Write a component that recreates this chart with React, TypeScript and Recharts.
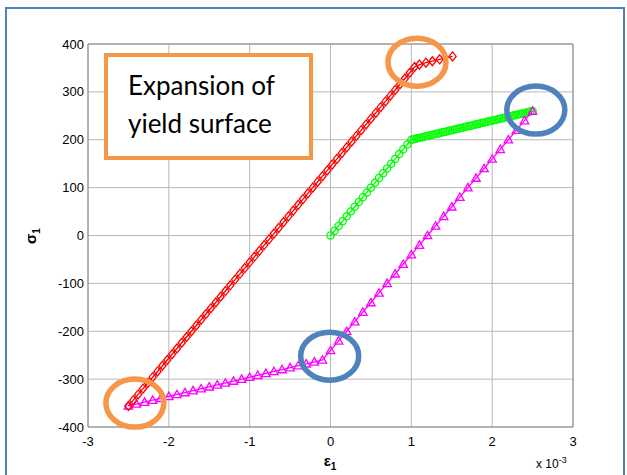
import React from "react";
import {
  ScatterChart,
  Scatter,
  XAxis,
  YAxis,
  CartesianGrid,
  ReferenceArea,
  ReferenceDot,
} from "recharts";

// strain (x 10^-3), stress
const initialLoading: [number, number][] = [
  [0, 0], [0.05, 10], [0.1, 20], [0.15, 30], [0.2, 40], [0.25, 50], [0.3, 60],
  [0.35, 70], [0.4, 80], [0.45, 90], [0.5, 100], [0.55, 110], [0.6, 120],
  [0.65, 130], [0.7, 140], [0.75, 150], [0.8, 160], [0.85, 170], [0.9, 180],
  [0.95, 190], [1.0, 200],
  [1.03, 201.2], [1.06, 202.4], [1.09, 203.6], [1.12, 204.8], [1.15, 206.0],
  [1.18, 207.2], [1.21, 208.4], [1.24, 209.6], [1.27, 210.8], [1.3, 212.0],
  [1.33, 213.2], [1.36, 214.4], [1.39, 215.6], [1.42, 216.8], [1.45, 218.0],
  [1.48, 219.2], [1.51, 220.4], [1.54, 221.6], [1.57, 222.8], [1.6, 224.0],
  [1.63, 225.2], [1.66, 226.4], [1.69, 227.6], [1.72, 228.8], [1.75, 230.0],
  [1.78, 231.2], [1.81, 232.4], [1.84, 233.6], [1.87, 234.8], [1.9, 236.0],
  [1.93, 237.2], [1.96, 238.4], [1.99, 239.6], [2.02, 240.8], [2.05, 242.0],
  [2.08, 243.2], [2.11, 244.4], [2.14, 245.6], [2.17, 246.8], [2.2, 248.0],
  [2.23, 249.2], [2.26, 250.4], [2.29, 251.6], [2.32, 252.8], [2.35, 254.0],
  [2.38, 255.2], [2.41, 256.4], [2.44, 257.6], [2.47, 258.8], [2.5, 260.0],
];

const reverseLoading: [number, number][] = [
  [2.5, 260], [2.4, 240], [2.3, 220], [2.2, 200], [2.1, 180], [2.0, 160],
  [1.9, 140], [1.8, 120], [1.7, 100], [1.6, 80], [1.5, 60], [1.4, 40],
  [1.3, 20], [1.2, 0], [1.1, -20], [1.0, -40], [0.9, -60], [0.8, -80],
  [0.7, -100], [0.6, -120], [0.5, -140], [0.4, -160], [0.3, -180],
  [0.2, -200], [0.1, -220], [0.0, -240], [-0.1, -260],
  [-0.2, -264], [-0.3, -268], [-0.4, -272], [-0.5, -276], [-0.6, -280],
  [-0.7, -284], [-0.8, -288], [-0.9, -292], [-1.0, -296], [-1.1, -300],
  [-1.2, -304], [-1.3, -308], [-1.4, -312], [-1.5, -316], [-1.6, -320],
  [-1.7, -324], [-1.8, -328], [-1.9, -332], [-2.0, -336], [-2.1, -340],
  [-2.2, -344], [-2.3, -348], [-2.4, -352], [-2.5, -356],
];

const reloading: [number, number][] = [
  [-2.5, -356], [-2.44, -344], [-2.38, -332], [-2.32, -320], [-2.26, -308],
  [-2.2, -296], [-2.14, -284], [-2.08, -272], [-2.02, -260], [-1.96, -248],
  [-1.9, -236], [-1.84, -224], [-1.78, -212], [-1.72, -200], [-1.66, -188],
  [-1.6, -176], [-1.54, -164], [-1.48, -152], [-1.42, -140], [-1.36, -128],
  [-1.3, -116], [-1.24, -104], [-1.18, -92], [-1.12, -80], [-1.06, -68],
  [-1.0, -56], [-0.94, -44], [-0.88, -32], [-0.82, -20], [-0.76, -8],
  [-0.7, 4], [-0.64, 16], [-0.58, 28], [-0.52, 40], [-0.46, 52],
  [-0.4, 64], [-0.34, 76], [-0.28, 88], [-0.22, 100], [-0.16, 112],
  [-0.1, 124], [-0.04, 136], [0.02, 148], [0.08, 160], [0.14, 172],
  [0.2, 184], [0.26, 196], [0.32, 208], [0.38, 220], [0.44, 232],
  [0.5, 244], [0.56, 256], [0.62, 268], [0.68, 280], [0.74, 292],
  [0.8, 304], [0.86, 316], [0.92, 328], [0.98, 340], [1.04, 352],
  [1.1, 357], [1.18, 361], [1.26, 364], [1.35, 368], [1.51, 374],
];

const xTicks = [-3, -2, -1, 0, 1, 2, 3];
const yTicks = [-400, -300, -200, -100, 0, 100, 200, 300, 400];

// highlighted yield points: [strain, stress, colour]
const highlights: [number, number, string][] = [
  [1.07, 362, "#f79646"],
  [-2.42, -350, "#f79646"],
  [-0.01, -252, "#4f81bd"],
  [2.54, 262, "#4f81bd"],
];

const toPoints = (arr: [number, number][]) => arr.map(([x, y]) => ({ x, y }));

const GREEN = "#00ff00";
const MAGENTA = "#ff00ff";
const RED = "#ff0000";

const CircleMark = (p: any) => (
  <circle cx={p.cx} cy={p.cy} r={3.6} fill="none" stroke={GREEN} strokeWidth={1.3} />
);

const TriangleMark = (p: any) => (
  <path
    d={`M${p.cx},${p.cy - 4.2} L${p.cx + 4.2},${p.cy + 3.2} L${p.cx - 4.2},${p.cy + 3.2} Z`}
    fill="none"
    stroke={MAGENTA}
    strokeWidth={1.3}
  />
);

const DiamondMark = (p: any) => (
  <path
    d={`M${p.cx},${p.cy - 4.5} L${p.cx + 3.6},${p.cy} L${p.cx},${p.cy + 4.5} L${p.cx - 3.6},${p.cy} Z`}
    fill="none"
    stroke={RED}
    strokeWidth={1.3}
  />
);

const Ring = (color: string) => (p: any) => (
  <ellipse cx={p.cx} cy={p.cy} rx={29} ry={24} fill="none" stroke={color} strokeWidth={5.5} />
);

const tickStyle = { fontFamily: "Liberation Sans, Arial, sans-serif", fontSize: 13, fill: "#000" };

export default function App() {
  return (
    <div
      style={{
        position: "absolute",
        left: 0,
        top: 0,
        width: 627,
        height: 475,
        background: "#fff",
        overflow: "hidden",
        fontFamily: "Liberation Sans, Arial, sans-serif",
      }}
    >
      <div
        style={{
          position: "absolute",
          left: 5,
          top: 7,
          width: 616,
          height: 480,
          border: "2px solid #4f81bd",
        }}
      />
      <ScatterChart
        width={627}
        height={475}
        margin={{ top: 44, right: 54, bottom: 18, left: 28 }}
        style={{ position: "absolute", left: 0, top: 0 }}
      >
        <CartesianGrid stroke="#b8b8b8" strokeWidth={1} />
        <XAxis
          type="number"
          dataKey="x"
          domain={[-3, 3]}
          ticks={xTicks}
          tickLine={false}
          axisLine={false}
          tick={tickStyle}
          tickSize={4}
          tickMargin={6}
          height={30}
        />
        <YAxis
          type="number"
          dataKey="y"
          domain={[-400, 400]}
          ticks={yTicks}
          tickLine={false}
          axisLine={false}
          tick={tickStyle}
          tickSize={4}
          tickMargin={0}
          width={60}
        />
        <ReferenceArea x1={-3} x2={3} y1={-400} y2={400} fill="none" stroke="#8a8a8a" strokeWidth={1} />
        <Scatter
          data={toPoints(initialLoading)}
          shape={CircleMark}
          line={{ stroke: GREEN, strokeWidth: 1.3 }}
          lineType="joint"
          isAnimationActive={false}
        />
        <Scatter
          data={toPoints(reverseLoading)}
          shape={TriangleMark}
          line={{ stroke: MAGENTA, strokeWidth: 1.3 }}
          lineType="joint"
          isAnimationActive={false}
        />
        <Scatter
          data={toPoints(reloading)}
          shape={DiamondMark}
          line={{ stroke: RED, strokeWidth: 1.3 }}
          lineType="joint"
          isAnimationActive={false}
        />
        {highlights.map(([x, y, c], i) => (
          <ReferenceDot key={i} x={x} y={y} shape={Ring(c)} ifOverflow="visible" />
        ))}
      </ScatterChart>
      <div
        style={{
          position: "absolute",
          left: 32,
          top: 236,
          transform: "translate(-50%, -50%) rotate(-90deg)",
          fontWeight: "bold",
          fontSize: 15,
          whiteSpace: "nowrap",
        }}
      >
        σ<sub style={{ fontSize: 10 }}>1</sub>
      </div>
      <div
        style={{
          position: "absolute",
          left: 330,
          top: 462,
          transform: "translate(-50%, -50%)",
          fontWeight: "bold",
          fontSize: 15,
          whiteSpace: "nowrap",
        }}
      >
        ε<sub style={{ fontSize: 10 }}>1</sub>
      </div>
      <div
        style={{
          position: "absolute",
          left: 536,
          top: 455,
          fontSize: 12,
          whiteSpace: "nowrap",
        }}
      >
        x 10<sup style={{ fontSize: 9 }}>-3</sup>
      </div>
      <div
        style={{
          position: "absolute",
          left: 104,
          top: 53,
          width: 209,
          height: 107,
          boxSizing: "border-box",
          border: "4px solid #f79646",
          background: "#fff",
          fontFamily: "Lato, sans-serif",
          fontSize: 26,
          lineHeight: "38px",
          paddingLeft: 20,
          paddingTop: 9,
          color: "#000",
        }}
      >
        Expansion of
        <br />
        yield surface
      </div>
    </div>
  );
}
